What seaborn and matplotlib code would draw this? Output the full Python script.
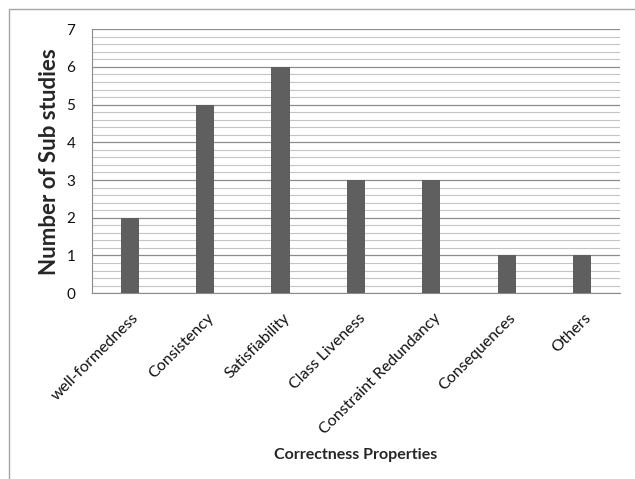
import matplotlib
matplotlib.use("Agg")
import matplotlib.pyplot as plt
import matplotlib.transforms as mtransforms
import seaborn as sns
import pandas as pd
from matplotlib.ticker import MultipleLocator
from matplotlib.patches import Rectangle

# Data
properties = ["well-formedness", "Consistency", "Satisfiability", "Class Liveness",
              "Constraint Redundancy", "Consequences", "Others"]
sub_studies = [2, 5, 6, 3, 3, 1, 1]

df = pd.DataFrame({"Property": properties, "Count": sub_studies})

sns.set_style("white")
plt.rcParams['font.family'] = ['Lato', 'DejaVu Sans']

fig = plt.figure(figsize=(6.35, 4.79), dpi=100)
ax = fig.add_axes([0.145, 0.388, 0.831, 0.551])

# outer chart frame (cut off on the right and bottom like the reference)
fig.patches.append(Rectangle((9 / 635, -0.1), 1.0, 1 - 9 / 479 + 0.1,
                             transform=fig.transFigure, fill=False,
                             edgecolor="#a6a6a6", linewidth=1.0, zorder=0))

sns.barplot(data=df, x="Property", y="Count", color="#5f5f5f", width=0.24,
            saturation=1, linewidth=0, ax=ax, zorder=3)

ax.set_ylim(0, 7)
ax.set_xlim(-0.5, len(properties) - 0.5)
ax.yaxis.set_major_locator(MultipleLocator(1))
ax.yaxis.set_minor_locator(MultipleLocator(0.2))
ax.grid(which="major", axis="y", color="#8c8c8c", linewidth=0.9, zorder=0)
ax.grid(which="minor", axis="y", color="#c4c4c4", linewidth=0.8, zorder=0)
ax.set_axisbelow(True)

for side in ["top", "right"]:
    ax.spines[side].set_visible(False)
for side in ["left", "bottom"]:
    ax.spines[side].set_color("#8c8c8c")

ax.tick_params(axis="y", which="major", length=5, color="#8c8c8c", labelsize=11,
               pad=7, labelcolor="#111111")
ax.tick_params(axis="y", which="minor", length=0)
ax.tick_params(axis="x", length=0, labelsize=11.5, pad=13, labelcolor="#111111")
shift = mtransforms.ScaledTranslation(2 / 100, 0, fig.dpi_scale_trans)
for lab in ax.get_xticklabels():
    lab.set_rotation(45)
    lab.set_ha("right")
    lab.set_rotation_mode("anchor")
    lab.set_transform(lab.get_transform() + shift)

ax.set_ylabel("Number of Sub studies", fontsize=16, fontweight="bold", labelpad=5)
ax.set_xlabel("Correctness Properties", fontsize=11.5, fontweight="bold")
ax.xaxis.set_label_coords(0.5, -0.585)

fig.savefig("out.png", dpi=100)
